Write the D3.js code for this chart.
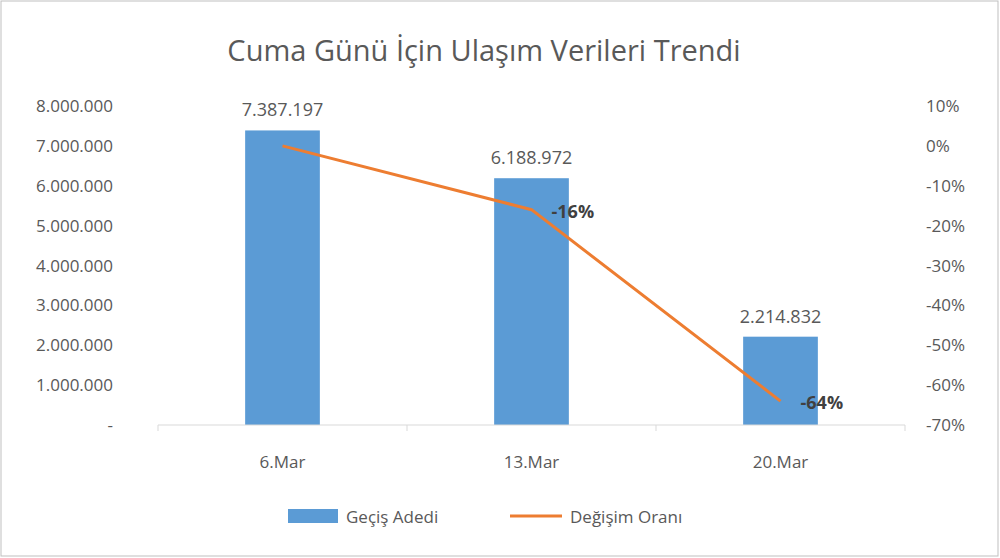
<!DOCTYPE html><html><head><meta charset="utf-8"><script src="https://d3js.org/d3.v7.min.js"></script>
<style>body{margin:0;background:#fff}svg{font-family:"Open Sans",sans-serif}</style></head><body><svg id="c" width="1000" height="558"></svg>
<script>
const categories=["6.Mar","13.Mar","20.Mar"];
const counts=[7387197,6188972,2214832];
const changes=[0,-0.16,-0.64];
const changeLabels=["","-16%","-64%"];
const leftTicks=[0,1e6,2e6,3e6,4e6,5e6,6e6,7e6,8e6];
const rightTicks=[0.1,0,-0.1,-0.2,-0.3,-0.4,-0.5,-0.6,-0.7];
const svg=d3.select("#c");
const fmt=v=>v===0?"-":d3.format(",")(v).replace(/,/g,".");
svg.append("rect").attr("x",1).attr("y",1).attr("width",997).attr("height",555).attr("fill","#fff").attr("stroke","#bfbfbf");
const x=d3.scaleBand().domain(categories).range([158,905]).paddingInner(0.7).paddingOuter(0.35);
const y=d3.scaleLinear().domain([0,8e6]).range([425,106]);
const y2=d3.scaleLinear().domain([-0.7,0.1]).range([425,106]);
const col="#595959";
svg.append("text").attr("x",484).attr("y",61).attr("text-anchor","middle").attr("font-size",29).attr("fill",col).text("Cuma Günü İçin Ulaşım Verileri Trendi");
svg.selectAll(".lt").data(leftTicks).join("text").attr("x",113).attr("y",d=>y(d)+6).attr("text-anchor","end").attr("font-size",17).attr("fill",col).text(fmt);
svg.selectAll(".rt").data(rightTicks).join("text").attr("x",926).attr("y",d=>y2(d)+6).attr("font-size",17).attr("fill",col).text(d=>Math.round(d*100)+"%");
svg.selectAll(".bar").data(counts).join("rect").attr("x",(d,i)=>x(categories[i])).attr("width",x.bandwidth()).attr("y",d=>y(d)).attr("height",d=>425-y(d)).attr("fill","#5B9BD5");
svg.selectAll(".bl").data(counts).join("text").attr("x",(d,i)=>x(categories[i])+x.bandwidth()/2).attr("y",d=>y(d)-14).attr("text-anchor","middle").attr("font-size",18).attr("fill",col).text(fmt);
svg.append("line").attr("x1",158).attr("x2",905).attr("y1",425).attr("y2",425).attr("stroke","#d9d9d9");
[158,407,656,905].forEach(t=>svg.append("line").attr("x1",t).attr("x2",t).attr("y1",425).attr("y2",431).attr("stroke","#d9d9d9"));
svg.selectAll(".xl").data(categories).join("text").attr("x",d=>x(d)+x.bandwidth()/2).attr("y",468).attr("text-anchor","middle").attr("font-size",17).attr("fill",col).text(d=>d);
const cx=i=>x(categories[i])+x.bandwidth()/2;
svg.append("path").attr("d",d3.line().x((d,i)=>cx(i)).y(d=>y2(d))(changes)).attr("fill","none").attr("stroke","#ED7D31").attr("stroke-width",3);
svg.selectAll(".cl").data(changeLabels).join("text").attr("x",(d,i)=>cx(i)+20).attr("y",(d,i)=>y2(changes[i])+8).attr("font-size",18).attr("font-weight","bold").attr("fill","#404040").text(d=>d);
svg.append("rect").attr("x",288).attr("y",509).attr("width",50).attr("height",14).attr("fill","#5B9BD5");
svg.append("text").attr("x",346).attr("y",523).attr("font-size",17).attr("fill",col).text("Geçiş Adedi");
svg.append("line").attr("x1",510).attr("x2",562).attr("y1",516).attr("y2",516).attr("stroke","#ED7D31").attr("stroke-width",3);
svg.append("text").attr("x",570).attr("y",523).attr("font-size",17).attr("fill",col).text("Değişim Oranı");
</script></body></html>
